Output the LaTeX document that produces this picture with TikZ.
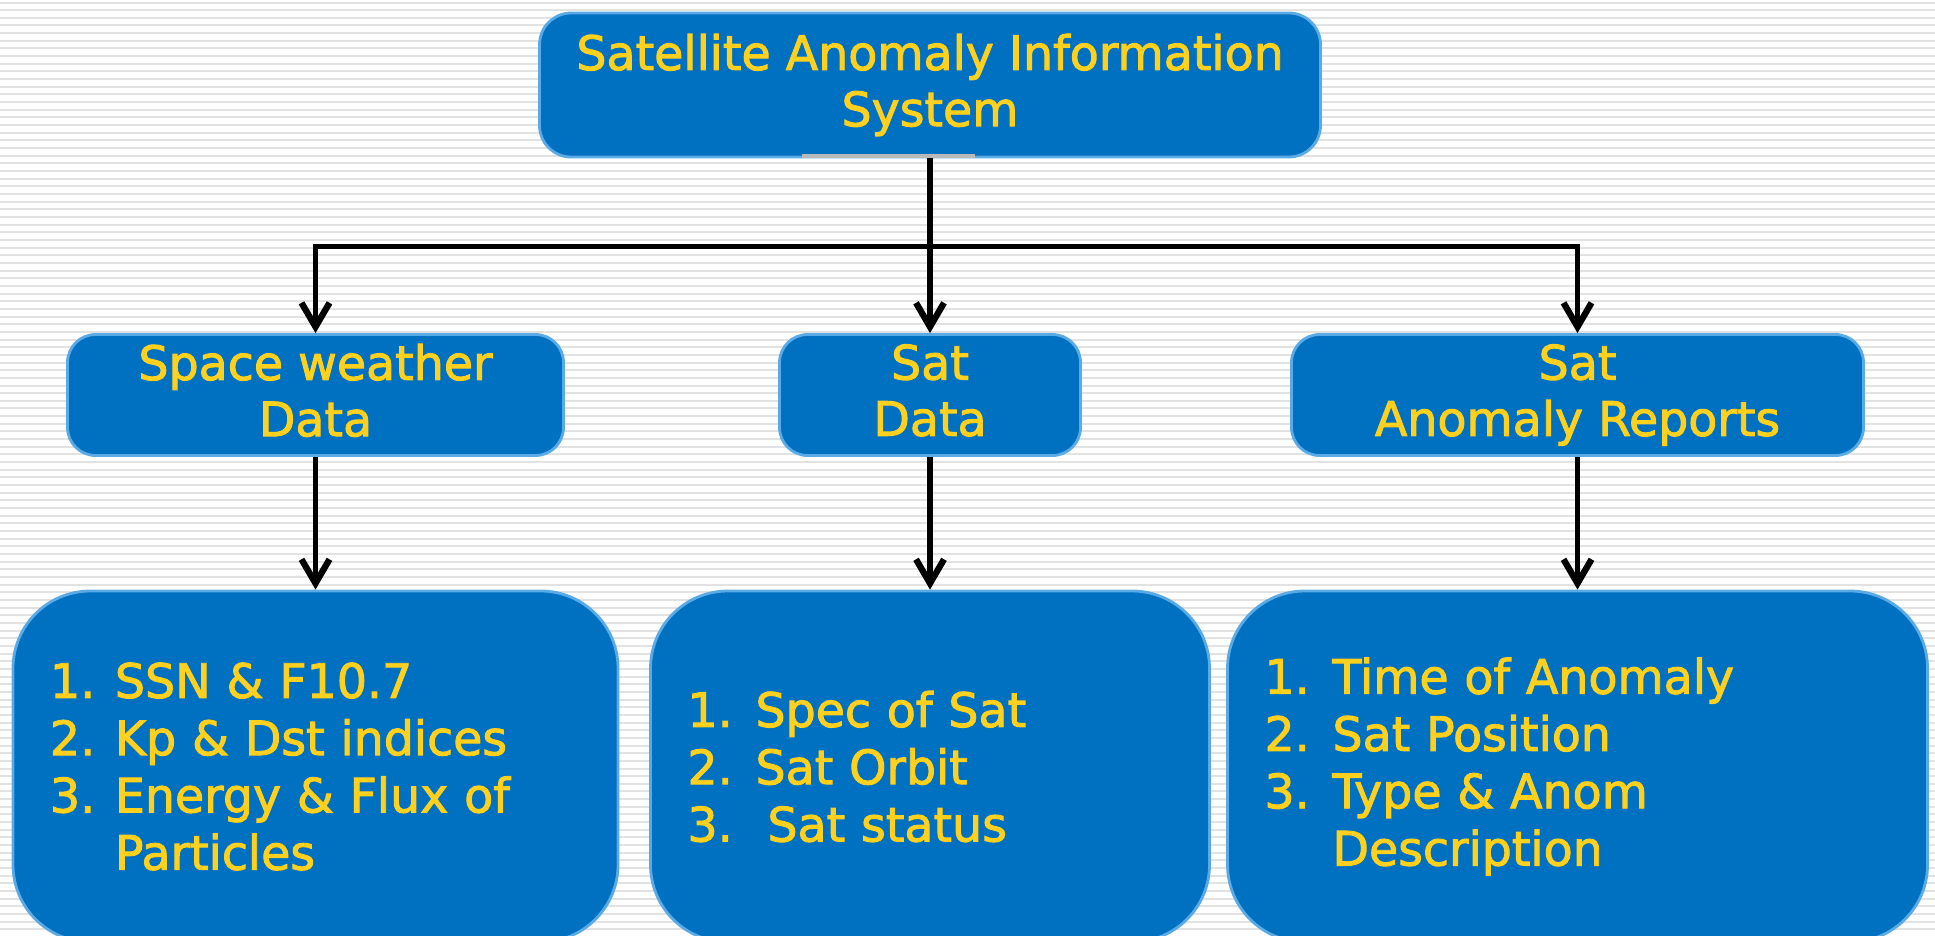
\documentclass[tikz,border=0pt]{standalone}
\usepackage{fontspec}
\setmainfont[FakeBold=2]{DejaVu Sans}
\definecolor{boxblue}{RGB}{0, 112, 192}
\definecolor{boxedge}{RGB}{90, 170, 230}
\definecolor{txtyellow}{RGB}{255, 208, 30}
\definecolor{stripe}{RGB}{226, 226, 226}
\usetikzlibrary{arrows.meta, positioning}
\newlength{\numwd}
\newcommand{\lnum}[1]{\makebox[\numwd][l]{#1}}

\begin{document}
\begin{tikzpicture}[
        box/.style={draw=boxedge, fill=boxblue, text=txtyellow, line width=0.8pt, align=center, font=\fontsize{13.5}{16}\selectfont},
        head/.style={box, rounded corners=9pt, minimum width=7.81cm, minimum height=1.44cm},
        mid/.style={box, rounded corners=8pt, inner ysep=1pt, minimum height=1.21cm},
        list/.style={box, rounded corners=22pt, align=left, inner xsep=0.37cm, minimum height=3.51cm, font=\fontsize{13.5}{16.3}\selectfont},
        conn/.style={line width=1.6pt, -{Straight Barb[length=2.4mm, width=2.8mm, line width=1.8pt]}},
      ]
      \clip (0, 0) rectangle (19.35, -9.35);
      \fill[white] (0, 0) rectangle (19.35, -9.35);
      \foreach \i in {0,...,122}
        \fill[stripe] (0, -0.015-\i*0.0766) rectangle (19.35, -0.035-\i*0.0766);

      \node[head] (sais) at (9.30, -0.85) {Satellite Anomaly Information\\System};
      \fill[gray!55] (8.02, -1.54) rectangle (9.75, -1.58);

      \node[mid, minimum width=4.96cm] (swd) at (3.155, -3.95) {Space weather\\Data\vphantom{y}};
      \node[mid, minimum width=3.01cm] (satd) at (9.30, -3.95) {Sat\\Data\vphantom{y}};
      \node[mid, minimum width=5.72cm] (sar) at (15.775, -3.95) {Sat\\Anomaly Reports};

      \setlength{\numwd}{0.65cm}
      \node[list, text width=5.31cm] (swl) at (3.155, -7.665) {\lnum{1.}SSN \& F10.7\\\lnum{2.}Kp \& Dst indices\\\lnum{3.}Energy \& Flux of\\\lnum{}Particles};
      \setlength{\numwd}{0.68cm}
      \node[list, text width=4.85cm] (satl) at (9.30, -7.665) {\lnum{1.}Spec of Sat\\\lnum{2.}Sat Orbit\\\lnum{3.}\hspace{0.12cm}Sat status};
      \node[list, text width=6.26cm] (sarl) at (15.775, -7.665) {\lnum{1.}Time of Anomaly\\\lnum{2.}Sat Position\\\lnum{3.}Type \& Anom\\\lnum{}Description};

      % connectors
      \draw[line width=1.6pt] (sais.south) -- ++(0, -0.88) coordinate (split);
      \draw[conn] (split) -| (swd.north);
      \draw[conn] (split) -| (sar.north);
      \draw[conn] (split) -- (satd.north);
      \draw[conn] (swd.south) -- (swl.north);
      \draw[conn] (satd.south) -- (satl.north);
      \draw[conn] (sar.south) -- (sarl.north);
      \end{tikzpicture}
\end{document}
